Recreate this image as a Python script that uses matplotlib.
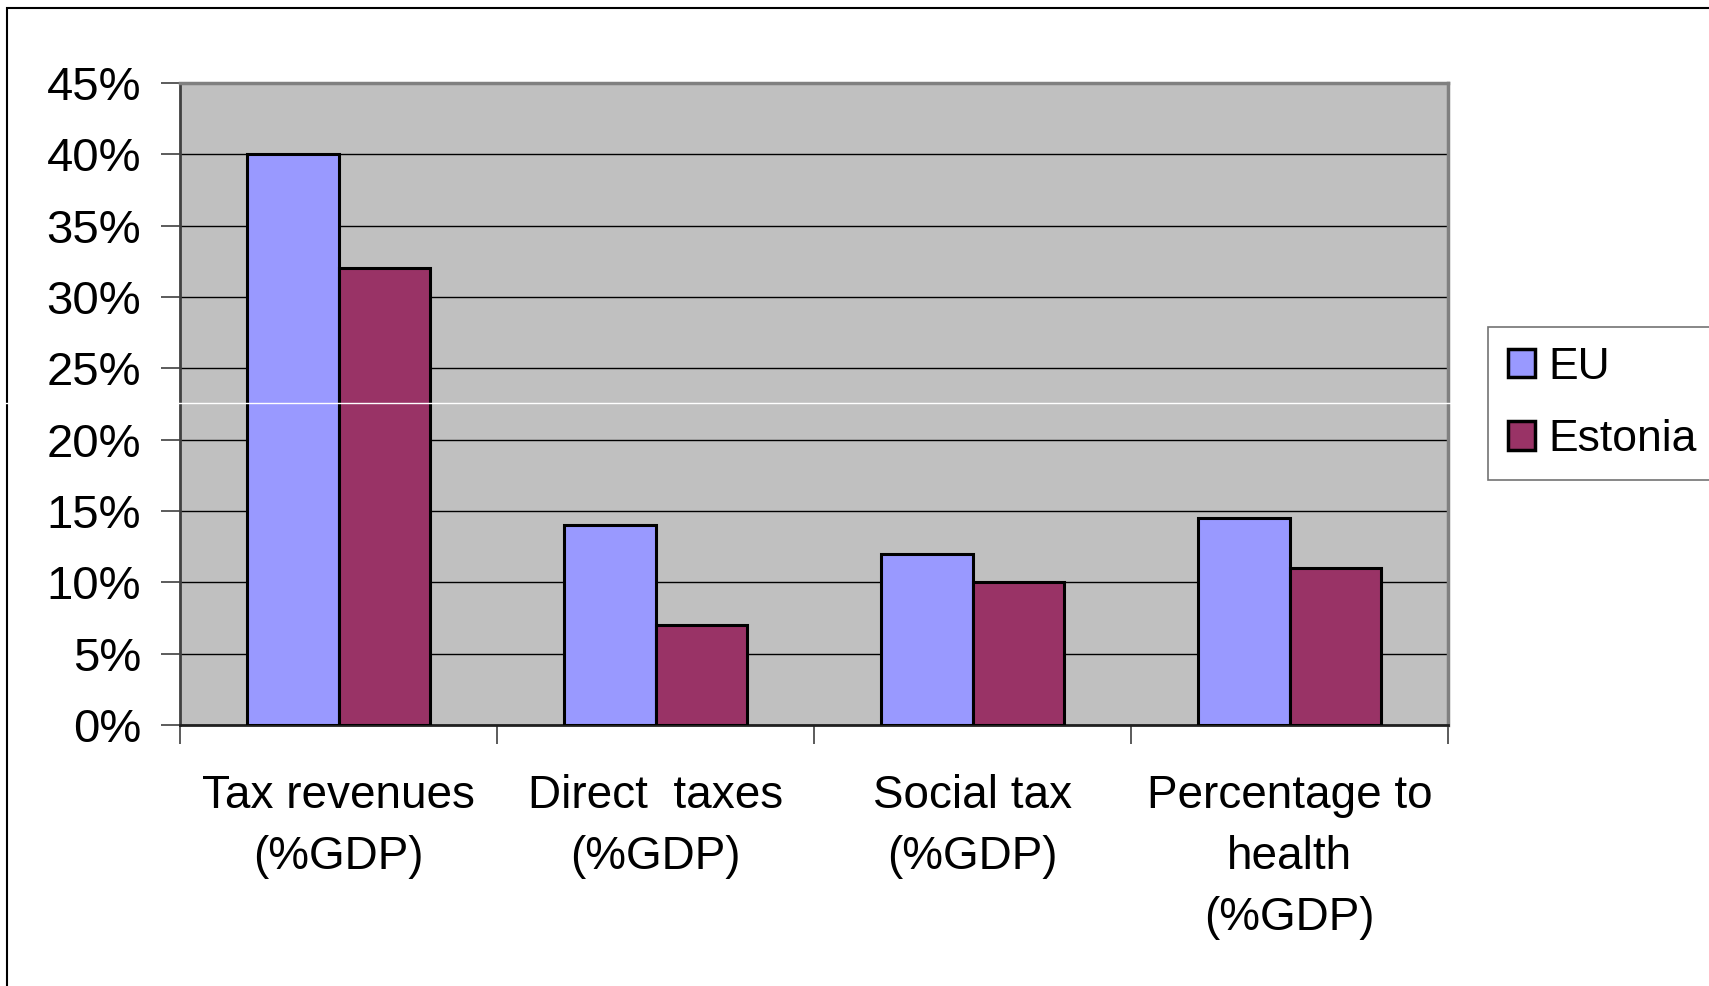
import matplotlib.pyplot as plt
from matplotlib.lines import Line2D
from matplotlib.patches import Rectangle, Patch
from matplotlib.ticker import FuncFormatter

categories = ["Tax revenues\n(%GDP)", "Direct  taxes\n(%GDP)", "Social tax\n(%GDP)", "Percentage to\nhealth\n(%GDP)"]
eu = [0.40, 0.14, 0.12, 0.145]
estonia = [0.32, 0.07, 0.10, 0.11]
series_names = ["EU", "Estonia"]
yticks = [0, 0.05, 0.10, 0.15, 0.20, 0.25, 0.30, 0.35, 0.40, 0.45]

plt.rcParams['font.family'] = ['Liberation Sans', 'DejaVu Sans']

fig = plt.figure(figsize=(17.09, 9.86), dpi=100, facecolor='white')
ax = fig.add_axes([180/1709, 1-725/986, (1448-180)/1709, (725-83)/986])

# outer frame of the slide chart
fig.add_artist(Rectangle((7/1709, -0.1), 1.2, 1-8/986+0.1, transform=fig.transFigure,
                         fill=False, edgecolor='black', lw=1.5))

ax.set_facecolor('#C0C0C0')
w = 0.29
x = list(range(len(categories)))
ax.bar([i - w/2 for i in x], eu, width=w, color='#9999FF', edgecolor='black', lw=2.2, zorder=3)
ax.bar([i + w/2 for i in x], estonia, width=w, color='#993366', edgecolor='black', lw=2.2, zorder=3)

ax.set_xlim(-0.5, 3.5)
ax.set_ylim(0, 0.45)
ax.set_yticks(yticks)
ax.yaxis.set_major_formatter(FuncFormatter(lambda v, p: "{:.0f}%".format(v*100)))
ax.grid(axis='y', color='black', lw=1, zorder=1)
ax.set_axisbelow(True)

ax.set_xticks([-0.5, 0.5, 1.5, 2.5, 3.5])
ax.set_xticklabels([])
ax.set_xticks(x, minor=True)
ax.set_xticklabels(categories, minor=True, fontsize=33, linespacing=1.5)
ax.tick_params(axis='x', which='minor', length=0, pad=35)
ax.tick_params(axis='x', which='major', length=14, width=1.2, color='#404040', direction='out')
ax.tick_params(axis='y', length=14, width=1.2, color='#404040', direction='out', labelsize=34, pad=14)

for s in ['top', 'right']:
    ax.spines[s].set_color('#808080')
    ax.spines[s].set_linewidth(2.5)
ax.spines['left'].set_color('#404040')
ax.spines['left'].set_linewidth(2)
ax.spines['bottom'].set_color('#202020')
ax.spines['bottom'].set_linewidth(2)

handles = [Patch(facecolor='#9999FF', edgecolor='black', lw=2.5),
           Patch(facecolor='#993366', edgecolor='black', lw=2.5)]
leg = fig.legend(handles, series_names, loc='upper left', bbox_to_anchor=(1488/1709, 1-327/986),
                 fontsize=32, frameon=True, fancybox=False, edgecolor='#505050',
                 handlelength=0.6, handleheight=0.6, handletextpad=0.3,
                 borderpad=0.45, labelspacing=0.7, borderaxespad=0)
leg.get_frame().set_linewidth(1.2)

# thin white scan line across the picture
fig.add_artist(Line2D([0, 1], [1-403/986, 1-403/986], transform=fig.transFigure, color='white', lw=1))

fig.savefig('out.png', dpi=100, facecolor='white')
